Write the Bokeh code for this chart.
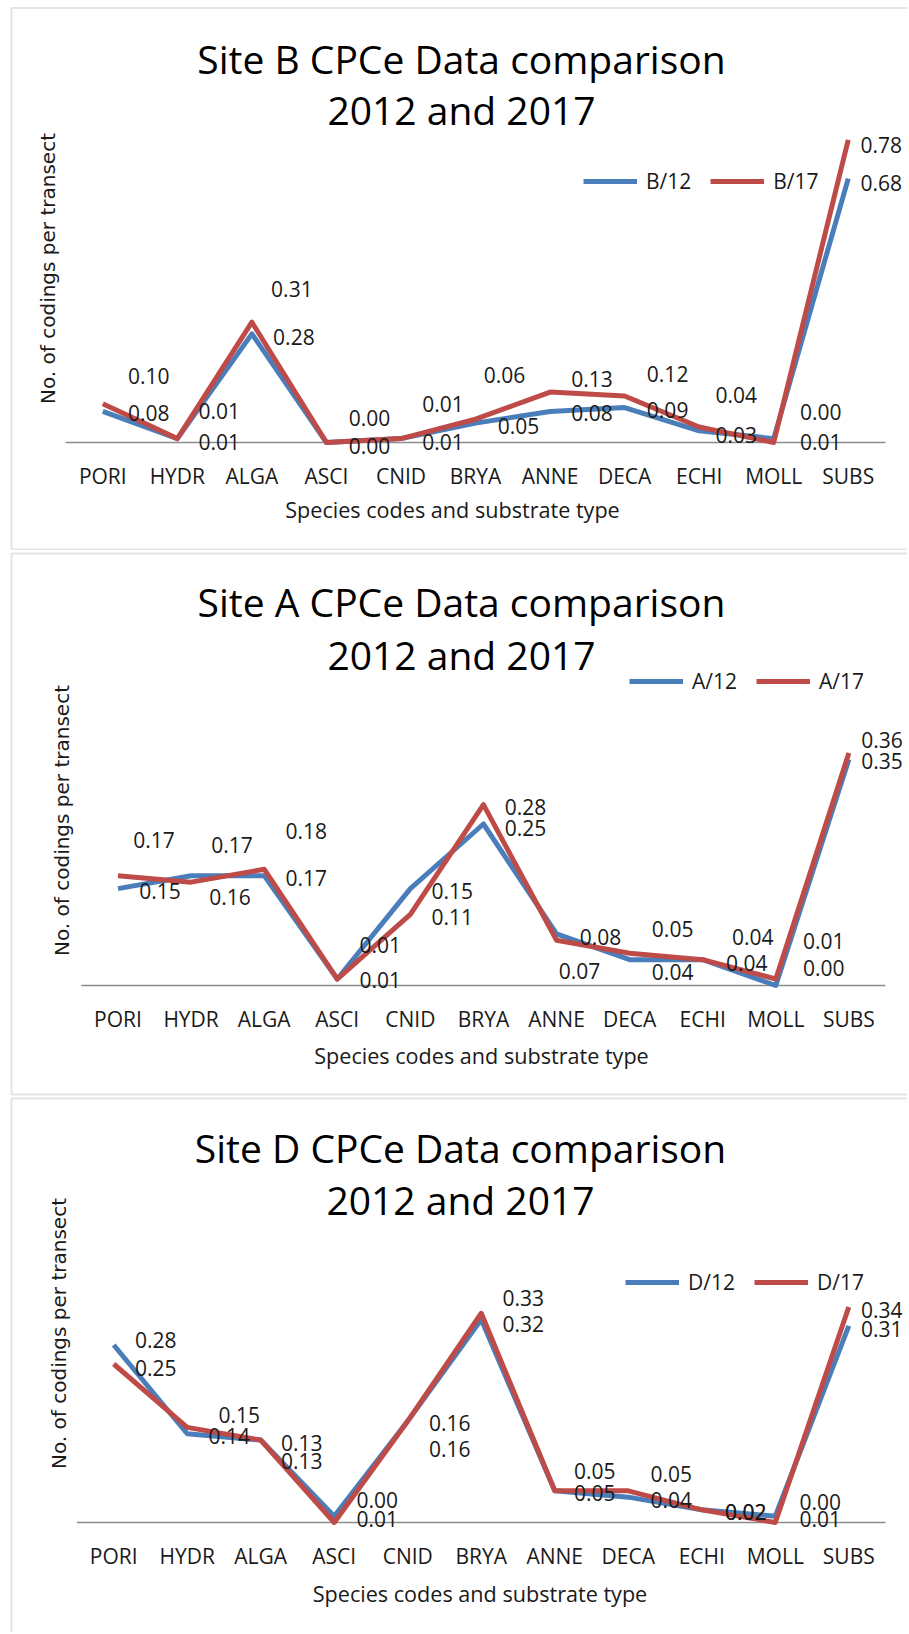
import math
from bokeh.plotting import figure
from bokeh.models import (Range1d, ColumnDataSource, LabelSet, Label,
                          Legend, LegendItem, BoxAnnotation)
from bokeh.layouts import column
from bokeh.embed import file_html
from bokeh.resources import INLINE
from bokeh.core.properties import value

# ---------------- data ----------------
categories = ["PORI", "HYDR", "ALGA", "ASCI", "CNID", "BRYA", "ANNE", "DECA", "ECHI", "MOLL", "SUBS"]

site_b_2012 = [0.08, 0.01, 0.28, 0.00, 0.01, 0.05, 0.08, 0.09, 0.03, 0.01, 0.68]
site_b_2017 = [0.10, 0.01, 0.31, 0.00, 0.01, 0.06, 0.13, 0.12, 0.04, 0.00, 0.78]
site_a_2012 = [0.15, 0.17, 0.17, 0.01, 0.15, 0.25, 0.08, 0.04, 0.04, 0.00, 0.35]
site_a_2017 = [0.17, 0.16, 0.18, 0.01, 0.11, 0.28, 0.07, 0.05, 0.04, 0.01, 0.36]
site_d_2012 = [0.28, 0.14, 0.13, 0.01, 0.16, 0.32, 0.05, 0.04, 0.02, 0.01, 0.31]
site_d_2017 = [0.25, 0.15, 0.13, 0.00, 0.16, 0.33, 0.05, 0.05, 0.02, 0.00, 0.34]

chart_titles = ["Site B CPCe Data comparison", "Site A CPCe Data comparison", "Site D CPCe Data comparison"]
subtitle = "2012 and 2017"
series_names = [("B/12", "B/17"), ("A/12", "A/17"), ("D/12", "D/17")]
x_title = "Species codes and substrate type"
y_title = "No. of codings per transect"

series_data = [(site_b_2012, site_b_2017), (site_a_2012, site_a_2017), (site_d_2012, site_d_2017)]

# ---------------- layout / style (pixels) ----------------
BLUE = "#4a7ebb"
RED = "#be4b48"
TEXT = "#1a1a1a"
AXIS = "#8c8c8c"
BORDER = "#a6a6a6"
FONT = "Open Sans"
W = 907

# data label offsets (screen px) relative to each point: dx right, dy up
label_offsets = [
    (dict(dx=[46, 42, 42, 43, 42, 43, 42, 43, 37, 47, 33], dy=[-2, -3, -3, -3, -3, -3, -2, -2, -4, -3, -4]),
     dict(dx=[46, 42, 40, 43, 42, 29, 42, 43, 37, 47, 33], dy=[28, 28, 33, 25, 35, 44, 13, 22, 32, 31, -5])),
    (dict(dx=[42, 41, 42, 43, 42, 42, 44, 43, 44, 48, 33], dy=[-2, 31, -2, -1, -2, -4, -3, -12, -3, 18, -2]),
     dict(dx=[36, 39, 42, 43, 42, 42, 23, 43, 50, 48, 33], dy=[36, -15, 38, 34, -3, -2, -31, 24, 23, 38, 13])),
    (dict(dx=[42, 42, 41, 43, 42, 42, 40, 43, 44, 45, 33], dy=[5, -2, -21, -3, -28, -4, -2, -3, -2, -3, -3]),
     dict(dx=[42, 52, 41, 43, 42, 42, 40, 43, 44, 45, 33], dy=[-4, 12, -3, 23, -2, 15, 20, 17, -2, 21, -3])),
]

# page-pixel layout of each panel
panels_layout = [
    dict(T0=0, h=550, c0=102.3, w=74.545, axis_y=442, k=388,
         border=(11, 7.5, 549), title_x=461, title_y=(58, 109), ytitle=(47.5, 268),
         xtitle=(452, 508.6), legend=(583, 183.3)),
    dict(T0=550, h=546, c0=117.5, w=73.09, axis_y=985, k=646,
         border=(11, 553, 1094), title_x=461, title_y=(601, 653.5), ytitle=(61, 820),
         xtitle=(481, 1055), legend=(629, 682.6)),
    dict(T0=1096, h=536, c0=113.2, w=73.51, axis_y=1522, k=634,
         border=(11, 1098, 1660), title_x=460, title_y=(1147, 1199), ytitle=(58, 1333),
         xtitle=(479.5, 1593), legend=(625, 1283.6)),
]


def make_panel(idx):
    L = panels_layout[idx]
    s12, s17 = series_data[idx]
    n12, n17 = series_names[idx]
    off12, off17 = label_offsets[idx]
    T0, h, c0, w, A, k = L["T0"], L["h"], L["c0"], L["w"], L["axis_y"], L["k"]
    bottom = T0 + h

    xs = list(range(len(categories)))

    p = figure(width=W, height=h,
               x_range=Range1d((0 - c0) / w, (W - c0) / w),
               y_range=Range1d((A - bottom) / k, (A - T0) / k),
               x_axis_location=None, y_axis_location=None, title=None,
               min_border=0, min_border_left=0, min_border_right=0,
               min_border_top=0, min_border_bottom=0,
               toolbar_location=None, output_backend="svg")
    p.outline_line_color = None
    p.grid.visible = False
    p.background_fill_color = "white"
    p.border_fill_color = "white"

    def sx(px):
        return px

    def sy(py):
        return bottom - py

    # panel border (chart area frame of the original image)
    bl, bt, bb = L["border"]
    p.add_layout(BoxAnnotation(left=sx(bl), right=W + 20, top=sy(bt), bottom=sy(bb),
                               left_units="screen", right_units="screen",
                               top_units="screen", bottom_units="screen",
                               fill_alpha=0, line_color=BORDER, line_width=2, level="underlay"))

    # horizontal category axis line
    p.segment(x0=[-0.5], y0=[0], x1=[len(categories) - 0.5], y1=[0],
              line_color=AXIS, line_width=1.5, level="underlay")

    # category labels
    cat_src = ColumnDataSource(dict(x=xs, y=[0] * len(xs), text=categories))
    p.add_layout(LabelSet(x="x", y="y", text="text", y_offset=-33, source=cat_src,
                          text_align="center", text_baseline="middle",
                          text_font=value(FONT), text_font_size=value("21px"),
                          text_color=TEXT))

    r12 = p.line(xs, s12, line_color=BLUE, line_width=5, line_join="round")
    r17 = p.line(xs, s17, line_color=RED, line_width=5, line_join="round")

    for vals, off in ((s12, off12), (s17, off17)):
        src = ColumnDataSource(dict(x=xs, y=vals,
                                    text=[f"{v:.2f}" for v in vals],
                                    dx=off["dx"], dy=off["dy"]))
        p.add_layout(LabelSet(x="x", y="y", text="text", x_offset="dx", y_offset="dy",
                              source=src, text_align="center", text_baseline="middle",
                              text_font=value(FONT), text_font_size=value("21px"),
                              text_color=TEXT))

    for txt, ty in zip([chart_titles[idx], subtitle], L["title_y"]):
        p.add_layout(Label(x=sx(L["title_x"]), y=sy(ty), x_units="screen", y_units="screen",
                           text=txt, text_align="center", text_baseline="middle",
                           text_font=FONT, text_font_size="39px", text_color="#000000"))

    p.add_layout(Label(x=sx(L["xtitle"][0]), y=sy(L["xtitle"][1]), x_units="screen", y_units="screen",
                       text=x_title, text_align="center", text_baseline="middle",
                       text_font=FONT, text_font_size="21.6px", text_color=TEXT))
    p.add_layout(Label(x=sx(L["ytitle"][0]), y=sy(L["ytitle"][1]), x_units="screen", y_units="screen",
                       text=y_title, text_align="center", text_baseline="middle", angle=math.pi / 2,
                       text_font="DejaVu Sans", text_font_size="20px", text_color=TEXT))

    lx, ly = L["legend"]
    legend = Legend(items=[LegendItem(label=n12, renderers=[r12]),
                           LegendItem(label=n17, renderers=[r17])],
                    orientation="horizontal",
                    location=(sx(lx), sy(ly + 12)),
                    glyph_width=54, glyph_height=24, label_height=24,
                    label_standoff=9, spacing=19, padding=0, margin=0,
                    border_line_color=None, background_fill_alpha=0,
                    label_text_font=FONT, label_text_font_size="21px",
                    label_text_color=TEXT)
    p.add_layout(legend)
    return p


plots = [make_panel(i) for i in range(3)]
layout = column(*plots, spacing=0)

with open("out.html", "w") as f:
    f.write(file_html(layout, INLINE))
